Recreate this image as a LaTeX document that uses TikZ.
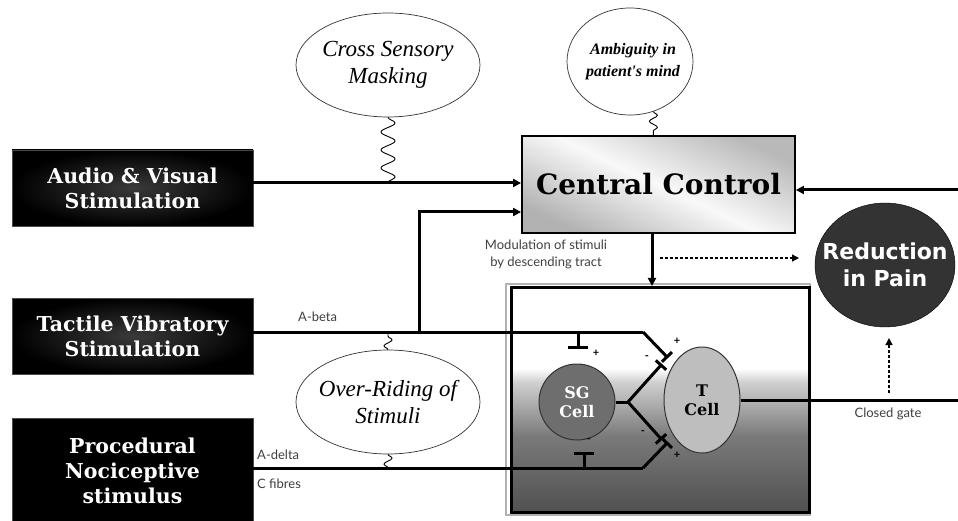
\documentclass[tikz,border=0pt]{standalone}
\usepackage{fontspec}
\usetikzlibrary{arrows.meta,shapes.geometric,decorations.pathmorphing}
\newfontfamily\boxf{DejaVu Serif}
\newfontfamily\itf{Liberation Serif}
\newfontfamily\sansf{DejaVu Sans}
\newfontfamily\labf{Lato}
\definecolor{gfive}{HTML}{505050}
\definecolor{gsix}{HTML}{7A7A7A}
\definecolor{gtwo}{HTML}{D0D0D0}
\definecolor{boxmid}{HTML}{3A3A3A}
\definecolor{sgfill}{HTML}{6E6E6E}
\definecolor{tfill}{HTML}{BEBEBE}
\definecolor{painfill}{HTML}{333333}
\pgfdeclareverticalshading{gatesh}{100bp}{color(0bp)=(gfive); color(25bp)=(gfive); color(42bp)=(gsix); color(54bp)=(gtwo); color(57bp)=(white); color(100bp)=(white)}
\tikzset{
  darkbox/.style={draw=gray!60!black, line width=0.8pt, minimum width=241pt, text=white, align=center,
    font=\boxf\bfseries\fontsize{20.5}{25}\selectfont},
  bubble/.style={ellipse, draw=black!80, line width=0.7pt, fill=white, inner sep=0pt},
  btext/.style={align=center, inner sep=0pt},
  conn/.style={line width=3pt, draw=black},
  tip/.style={-{Triangle[length=8pt,width=8pt]}},
  bartip/.style={-{Bar[width=14pt]}},
  squig/.style={line width=0.9pt, decorate, decoration={snake, amplitude=#1, segment length=18pt}},
  lab/.style={font=\labf\fontsize{13}{17}\selectfont, text=black!75, inner sep=1pt},
  sign/.style={font=\labf\bfseries\fontsize{11}{12}\selectfont, inner sep=0pt}
}
\begin{document}
\begin{tikzpicture}[x=1pt,y=-1pt]
\useasboundingbox (0,0) rectangle (958,521);
\fill[white] (0,0) rectangle (958,521);

% left boxes
\node[darkbox, minimum height=76pt, shading=radial, inner color=boxmid, outer color=black] (audio) at (132.5,188) {Audio \& Visual\\Stimulation};
\node[darkbox, minimum height=76pt, shading=radial, inner color=boxmid, outer color=black] (tactile) at (132.5,336) {Tactile Vibratory\\Stimulation};
\node[darkbox, minimum height=106pt, fill=black] (proc) at (132.5,471) {Procedural\\Nociceptive\\stimulus};

% central control
\node[draw=black, line width=1.8pt, minimum width=273pt, minimum height=97pt,
  top color=gray!55, bottom color=gray!60, middle color=gray!5, shading angle=-25,
  font=\boxf\bfseries\fontsize{28}{32}\selectfont] (cc) at (658.5,184.5) {Central Control};

% gate box
\draw[gray!60, line width=2pt] (506,284) rectangle (810,515);
\node[draw=black, line width=3pt, minimum width=298pt, minimum height=225pt, shading=gatesh] (gate) at (660,400) {};

% cells
\node[circle, draw=gray!40!black, line width=1pt, fill=sgfill, minimum size=76pt, inner sep=0pt, align=center,
  text=white, font=\boxf\bfseries\fontsize{16}{19}\selectfont] (sg) at (577,402) {SG\\Cell};
\node[ellipse, draw=gray!40!black, line width=1pt, fill=tfill, minimum width=76pt, minimum height=106pt, inner sep=0pt] (tcell) at (702,400) {};
\node[btext, font=\boxf\bfseries\fontsize{16}{19}\selectfont] (ttxt) at (tcell.center) {T\\Cell};

% reduction in pain
\node[ellipse, fill=painfill, draw=black, minimum width=140pt, minimum height=124pt, inner sep=0pt] (pain) at (885,265) {};
\node[btext, text=white, font=\sansf\bfseries\fontsize{22}{27}\selectfont] (paintxt) at (pain.center) {Reduction\\in Pain};

% bubbles
\node[bubble, minimum width=184pt, minimum height=104pt] (cross) at (388,65) {};
\node[btext, font=\itf\itshape\fontsize{23}{27}\selectfont] (crosstxt) at (cross.center) {Cross Sensory\\Masking};
\node[bubble, minimum width=126pt, minimum height=107pt] (amb) at (630,61.5) {};
\node[btext, font=\itf\itshape\bfseries\fontsize{16}{22}\selectfont] (ambtxt) at ([xshift=3pt]amb.center) {Ambiguity in\\patient's mind};
\node[bubble, minimum width=184pt, minimum height=104pt] (over) at (388,402) {};
\node[btext, font=\itf\itshape\fontsize{23}{27}\selectfont] (overtxt) at (over.center) {Over-Riding of\\Stimuli};

% helper coordinates
\coordinate (ya) at (0,183);
\coordinate (yb) at (0,212);
\coordinate (vx) at (419,332);
\coordinate (ab1) at (643,332);
\coordinate (ab2) at (668,358);
\coordinate (ad0) at (0,468);
\coordinate (ad1) at (643,468);
\coordinate (ad2) at (668,442);
\coordinate (jn) at (628,402);
\coordinate (sgu) at (662,364);
\coordinate (sgd) at (662,440);
\coordinate (stu0) at (578,332);
\coordinate (stu1) at (578,349);
\coordinate (std0) at (584,468);
\coordinate (std1) at (584,452);
\coordinate (dn) at (652,0);
\coordinate (re) at (958,190);
\coordinate (dsa) at (660,258);
\coordinate (dsb) at (799,258);
\coordinate (dta) at (889,393);
\coordinate (dtb) at (889,338);

% connectors
\draw[conn, tip] (audio.east |- ya) -- (cc.west |- ya);
\draw[conn] (tactile.east |- ab1) -- (ab1);
\draw[conn, bartip] (ab1) -- (ab2);
\draw[conn, tip] (vx) |- (cc.west |- yb);
\draw[conn] (proc.east |- ad0) -- (ad1);
\draw[conn, bartip] (ad1) -- (ad2);
\draw[conn] (sg.east) -- (jn);
\draw[conn, bartip] (jn) -- (sgu);
\draw[conn, bartip] (jn) -- (sgd);
\draw[conn, -{Bar[width=20pt]}] (stu0) -- (stu1);
\draw[conn, -{Bar[width=20pt]}] (std0) -- (std1);
\draw[conn, tip] (cc.south -| dn) -- (gate.north -| dn);
\draw[conn, tip] (re) -- (cc.east |- re);
\draw[conn] (tcell.east) -- (tcell.east -| re);
\draw[line width=1.2pt, densely dashed, -{Triangle[length=7pt,width=7pt]}] (dsa) -- (dsb);
\draw[line width=1.2pt, densely dashed, -{Triangle[length=7pt,width=7pt]}] (dta) -- (dtb);

% squiggles
\draw[squig=7pt] (cross.south) -- (cross.south |- ya);
\draw[line width=0.9pt, decorate, decoration={snake, amplitude=4pt, segment length=12pt}] (amb.295) -- (amb.295 |- cc.north);
\draw[line width=0.9pt, decorate, decoration={snake, amplitude=4pt, segment length=12pt}] (over.north) -- (over.north |- ab1);
\draw[line width=0.9pt, decorate, decoration={snake, amplitude=4pt, segment length=12pt}] (over.south) -- (over.south |- ad0);

% labels
\node[lab, anchor=west] (labab) at (297,317) {A-beta};
\node[lab, anchor=west] (labad) at (256,455) {A-delta};
\node[lab, anchor=west] (labc) at (256,484) {C fibres};
\node[lab, align=center] (labmod) at (546,254) {Modulation of stimuli\\by descending tract};
\node[lab] (labgate) at (888,414) {Closed gate};

% signs
\node[sign] (s1) at (596,353) {+};
\node[sign] (s2) at (677,341) {+};
\node[sign] (s3) at (647,358) {-};
\node[sign] (s4) at (589,441) {-};
\node[sign] (s5) at (643,433) {-};
\node[sign] (s6) at (677,455) {+};
\end{tikzpicture}
\end{document}
